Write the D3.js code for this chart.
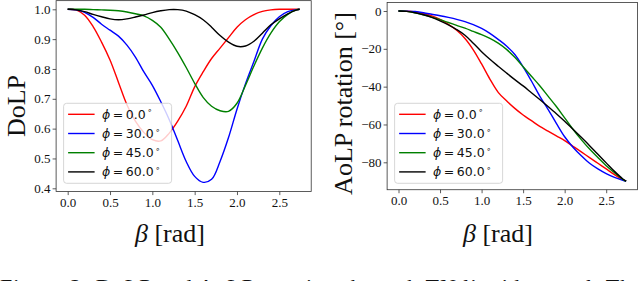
<!DOCTYPE html>
<meta charset="utf-8">

<style type="text/css">
  body {
    margin: 0;
    background: #fff;
    overflow: hidden;
  }

  .tick text {
    font-family: "Liberation Serif", "Times New Roman", serif;
    font-size: 13px;
    fill: #111;
  }

  .tick line {
    stroke: #333;
    stroke-width: 0.8px;
  }

  .frame {
    fill: none;
    stroke: #333;
    stroke-width: 0.8px;
  }

  .label {
    font-family: "Liberation Serif", "Times New Roman", serif;
    fill: #111;
  }

  .legend text {
    font-family: "DejaVu Sans", sans-serif;
    font-size: 12.5px;
    fill: #111;
  }
</style>

<body>
</body>

<script src="https://d3js.org/d3.v7.min.js"></script>
<script>
  // beta samples [rad]
  var beta = [0, 0.1, 0.2, 0.3, 0.4, 0.5, 0.6, 0.7, 0.8, 0.9, 1.0, 1.1, 1.2, 1.3, 1.4,
    1.5, 1.6, 1.7, 1.8, 1.9, 2.0, 2.1, 2.2, 2.3, 2.4, 2.5, 2.6, 2.7, 2.74];

  // DoLP, one list per phi
  var dolp0 = [1.0, 0.998, 0.98, 0.942, 0.89, 0.83, 0.755, 0.68, 0.625, 0.587, 0.563, 0.559,
    0.585, 0.625, 0.675, 0.74, 0.79, 0.835, 0.87, 0.905, 0.94, 0.965, 0.982, 0.993, 0.998,
    1.0, 1.0, 1.0, 1.0];
  var dolp30 = [1.0, 0.998, 0.99, 0.973, 0.95, 0.93, 0.91, 0.88, 0.84, 0.79, 0.745, 0.69,
    0.63, 0.56, 0.49, 0.44, 0.42, 0.43, 0.49, 0.57, 0.665, 0.75, 0.825, 0.9, 0.945, 0.975,
    0.992, 0.999, 1.0];
  var dolp45 = [1.0, 1.0, 1.0, 0.999, 0.998, 0.997, 0.995, 0.991, 0.985, 0.978, 0.963, 0.94,
    0.9, 0.855, 0.805, 0.752, 0.705, 0.675, 0.66, 0.658, 0.685, 0.745, 0.81, 0.87, 0.92,
    0.958, 0.983, 0.998, 1.0];
  var dolp60 = [1.0, 0.998, 0.992, 0.983, 0.975, 0.968, 0.965, 0.968, 0.974, 0.981, 0.989,
    0.995, 0.999, 0.999, 0.994, 0.982, 0.965, 0.94, 0.912, 0.89, 0.876, 0.877, 0.893, 0.92,
    0.948, 0.968, 0.985, 0.997, 1.0];

  // AoLP rotation [deg], one list per phi
  var aolp0 = [0, -0.1, -0.5, -1.3, -2.6, -4.4, -7.0, -10.2, -14.5, -20.5, -28, -36, -43,
    -47.5, -51.5, -55, -58, -61, -63.5, -66, -68.5, -71.5, -74.5, -77.5, -80.5, -83.5, -86.5,
    -89.2, -90];
  var aolp30 = [0, -0.05, -0.3, -0.9, -1.7, -2.5, -3.4, -4.4, -5.6, -7.2, -9.2, -11.8, -15,
    -18.5, -23, -29.5, -37, -45, -52, -59.4, -66.5, -72, -76.5, -80.5, -83.5, -86, -88,
    -89.5, -90];
  var aolp45 = [0, -0.2, -1.0, -2.0, -3.2, -4.6, -6.1, -7.6, -9.1, -10.8, -12.5, -14.5, -17,
    -20.3, -24.5, -29.5, -34.5, -39.5, -45, -50.5, -56.5, -62.5, -68, -73, -77.5, -81.8,
    -85.5, -89, -90];
  var aolp60 = [0, -0.2, -0.9, -2.0, -3.4, -5.2, -7.3, -9.8, -12.8, -17, -21.5, -25.5, -29.2,
    -32.8, -36.3, -39.6, -43.2, -46.8, -50.5, -54.3, -58.3, -62.5, -66.8, -71.2, -75.8,
    -80.3, -84.8, -88.8, -90];

  var phiLabels = ["0.0", "30.0", "45.0", "60.0"];
  var colors = ["red", "blue", "green", "black"];

  var xTicks = [0, 0.5, 1.0, 1.5, 2.0, 2.5];
  var dolpTicks = [0.4, 0.5, 0.6, 0.7, 0.8, 0.9, 1.0];
  var aolpTicks = [0, -20, -40, -60, -80];

  var width = 640,
    height = 281;

  var svg = d3.select("body")
    .append("svg")
    .attr("width", width)
    .attr("height", height);

  // scales set from tick positions, frames from the data limits (+5% margin)
  var xL = d3.scaleLinear().domain([0, 2.5]).range([67.7, 279.3]),
    yL = d3.scaleLinear().domain([0.4, 1.0]).range([188.3, 9.3]),
    xR = d3.scaleLinear().domain([0, 2.5]).range([398.5, 606.2]),
    yR = d3.scaleLinear().domain([0, -80]).range([11, 162.3]);

  var xLim = [-0.137, 2.877];

  function drawPanel(x, y, yLim, yTicks, yFmt, series) {
    var g = svg.append("g");

    var line = d3.line()
      .curve(d3.curveCatmullRom)
      .x(function(d) {
        return x(d[0]);
      })
      .y(function(d) {
        return y(d[1]);
      });

    series.forEach(function(s, i) {
      g.append("path")
        .datum(beta.map(function(b, j) {
          return [b, s[j]];
        }))
        .attr("fill", "none")
        .attr("stroke", colors[i])
        .attr("stroke-width", 1.4)
        .attr("d", line);
    });

    g.append("g")
      .attr("transform", "translate(0," + y(yLim[0]) + ")")
      .call(d3.axisBottom(x).tickValues(xTicks).tickFormat(d3.format(".1f"))
        .tickSize(3.5).tickPadding(3))
      .call(function(a) {
        a.select(".domain").remove();
      });

    g.append("g")
      .attr("transform", "translate(" + x(xLim[0]) + ",0)")
      .call(d3.axisLeft(y).tickValues(yTicks).tickFormat(yFmt)
        .tickSize(3.5).tickPadding(2))
      .call(function(a) {
        a.select(".domain").remove();
      });

    g.append("rect")
      .attr("class", "frame")
      .attr("x", x(xLim[0]))
      .attr("y", y(yLim[1]))
      .attr("width", x(xLim[1]) - x(xLim[0]))
      .attr("height", y(yLim[0]) - y(yLim[1]));

    // legend, lower left
    var lx = x(xLim[0]) + 7.5,
      ly = 103.3;
    var leg = g.append("g")
      .attr("class", "legend")
      .attr("transform", "translate(" + lx + "," + ly + ")");

    leg.append("rect")
      .attr("width", 108)
      .attr("height", 80)
      .attr("rx", 3)
      .attr("fill", "white")
      .attr("fill-opacity", 0.8)
      .attr("stroke", "#ccc")
      .attr("stroke-width", 0.8);

    phiLabels.forEach(function(p, i) {
      var ry = 11 + i * 19.2;
      leg.append("line")
        .attr("x1", 4.5)
        .attr("x2", 31)
        .attr("y1", ry)
        .attr("y2", ry)
        .attr("stroke", colors[i])
        .attr("stroke-width", 1.4);
      var t = leg.append("text")
        .attr("x", 38.5)
        .attr("y", ry + 4.6);
      t.append("tspan").style("font-style", "italic").text("ϕ");
      t.append("tspan").text("\u2009=\u2009" + p);
      t.append("tspan")
        .attr("dy", -5.5)
        .attr("dx", 1.5)
        .style("font-size", "8px")
        .text("∘");
    });
  }

  drawPanel(xL, yL, [0.389, 1.029], dolpTicks, d3.format(".1f"),
    [dolp0, dolp30, dolp45, dolp60]);
  drawPanel(xR, yR, [-94.5, 4.5], aolpTicks, d3.format("d"),
    [aolp0, aolp30, aolp45, aolp60]);

  // axis titles
  svg.append("text")
    .attr("class", "label")
    .attr("transform", "translate(25,106) rotate(-90)")
    .style("text-anchor", "middle")
    .style("font-size", "26px")
    .text("DoLP");

  svg.append("text")
    .attr("class", "label")
    .attr("transform", "translate(352,103.5) rotate(-90)")
    .style("text-anchor", "middle")
    .style("font-size", "26px")
    .text("AoLP rotation [°]");

  [135, 463].forEach(function(px) {
    var t = svg.append("text")
      .attr("class", "label")
      .attr("x", px)
      .attr("y", 242)
      .style("font-size", "26px");
    t.append("tspan").style("font-style", "italic").text("β");
    t.append("tspan").text(" [rad]");
  });

  // caption, only its top edge is inside the picture
  svg.append("text")
    .attr("class", "label")
    .attr("x", 0)
    .attr("y", 294)
    .attr("textLength", 642)
    .attr("lengthAdjust", "spacing")
    .style("font-size", "22px")
    .text("Figure 2: DoLP and AoLP rotation through TN liquid crystal. The");
</script>
